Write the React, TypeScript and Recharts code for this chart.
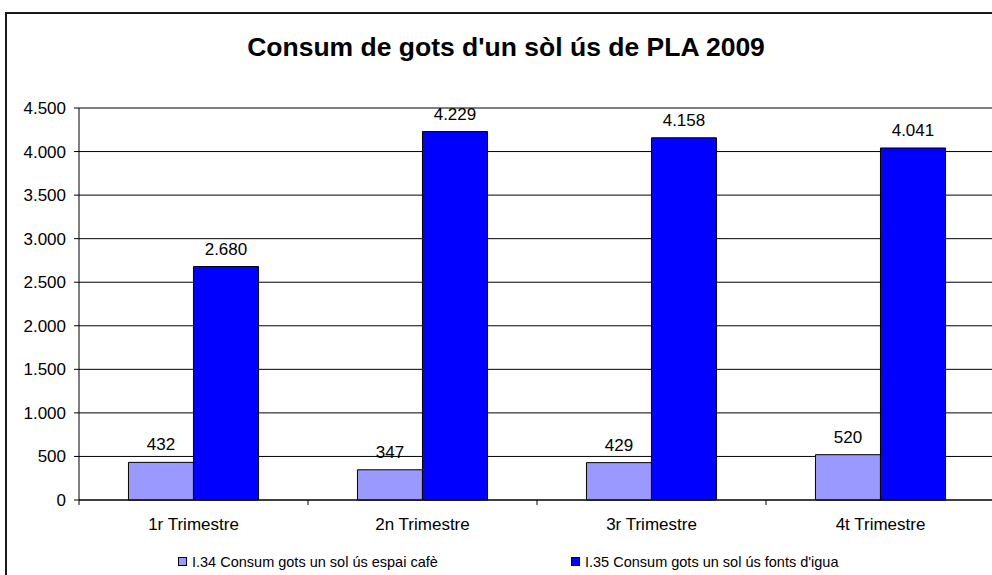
import * as React from "react";
import {
  BarChart,
  Bar,
  XAxis,
  YAxis,
  CartesianGrid,
  Legend,
  LabelList,
  ReferenceLine,
} from "recharts";

const categories = ["1r Trimestre", "2n Trimestre", "3r Trimestre", "4t Trimestre"];
const cafeSeries = [432, 347, 429, 520];
const fontsSeries = [2680, 4229, 4158, 4041];
const yTicks = [0, 500, 1000, 1500, 2000, 2500, 3000, 3500, 4000, 4500];

const cafeName = "I.34 Consum gots un sol ús espai cafè";
const fontsName = "I.35 Consum gots un sol ús fonts d'igua";
const title = "Consum de gots d'un sòl ús de PLA 2009";

const FONT = '"Liberation Sans", Arial, sans-serif';
const CHART_W = 1000;
const CHART_H = 575;
const MARGIN = { top: 108, right: 5, left: 0, bottom: 0 };
const Y_AXIS_W = 79;
const PLOT_W = CHART_W - MARGIN.left - MARGIN.right - Y_AXIS_W;

const data = categories.map((name, i) => ({
  name,
  cafe: cafeSeries[i],
  fonts: fontsSeries[i],
}));

// 4500 -> "4.500"
const fmt = (v: any) => String(v).replace(/\B(?=(\d{3})+(?!\d))/g, ".");

function CategoryTick(props: any) {
  const { x, y, payload, index } = props;
  const band = PLOT_W / categories.length;
  return (
    <g>
      {index === 0 && (
        <line x1={x - band / 2} x2={x - band / 2} y1={y} y2={y + 5} stroke="#000" />
      )}
      <line x1={x + band / 2} x2={x + band / 2} y1={y} y2={y + 5} stroke="#000" />
      <text x={x} y={y + 30} textAnchor="middle" fontSize={17} fontFamily={FONT} fill="#000">
        {payload.value}
      </text>
    </g>
  );
}

function LegendContent() {
  const items = [
    { label: cafeName, color: "#9999FF", width: 393 },
    { label: fontsName, color: "#0000FF", width: undefined },
  ];
  return (
    <div
      style={{
        height: 27,
        display: "flex",
        alignItems: "center",
        paddingLeft: 178,
        fontFamily: FONT,
        fontSize: 14.5,
        color: "#000",
      }}
    >
      {items.map((it) => (
        <div key={it.label} style={{ display: "flex", alignItems: "center", width: it.width }}>
          <span
            style={{
              display: "inline-block",
              width: 7,
              height: 7,
              background: it.color,
              border: "1px solid #000",
              marginRight: 5,
            }}
          />
          <span>{it.label}</span>
        </div>
      ))}
    </div>
  );
}

export default function App() {
  return (
    <div
      style={{
        position: "absolute",
        left: 0,
        top: 0,
        width: 992,
        height: 575,
        overflow: "hidden",
        background: "#fff",
      }}
    >
      <div
        style={{
          position: "absolute",
          left: 5,
          top: 12,
          width: 1100,
          height: 700,
          border: "2px solid #1a1a1a",
        }}
      />
      <div
        style={{
          position: "absolute",
          left: 0,
          top: 32,
          width: 1012,
          textAlign: "center",
          fontFamily: FONT,
          fontWeight: "bold",
          fontSize: 26.5,
          lineHeight: "30px",
          color: "#000",
        }}
      >
        {title}
      </div>
      <div style={{ position: "absolute", left: 0, top: 0 }}>
        <BarChart
          width={CHART_W}
          height={CHART_H}
          data={data}
          margin={MARGIN}
          barGap={0}
          barCategoryGap="21.6%"
        >
          <CartesianGrid vertical={false} stroke="#000" />
          <ReferenceLine y={4500} stroke="#808080" />
          <XAxis
            dataKey="name"
            height={48}
            tickSize={0}
            tickMargin={0}
            tick={<CategoryTick />}
            axisLine={{ stroke: "#000" }}
            interval={0}
          />
          <YAxis
            width={Y_AXIS_W}
            domain={[0, 4500]}
            ticks={yTicks}
            interval={0}
            tickFormatter={fmt}
            tickSize={5}
            tickMargin={8}
            axisLine={{ stroke: "#000" }}
            tickLine={{ stroke: "#000" }}
            tick={{ fontSize: 17, fontFamily: FONT, fill: "#000" }}
          />
          <Legend verticalAlign="bottom" content={<LegendContent />} />
          <Bar dataKey="cafe" name={cafeName} fill="#9999FF" stroke="#000" strokeWidth={1} isAnimationActive={false}>
            <LabelList
              dataKey="cafe"
              position="top"
              offset={12}
              formatter={fmt}
              style={{ fontSize: 17, fontFamily: FONT, fill: "#000" }}
            />
          </Bar>
          <Bar dataKey="fonts" name={fontsName} fill="#0000FF" stroke="#000" strokeWidth={1} isAnimationActive={false}>
            <LabelList
              dataKey="fonts"
              position="top"
              offset={12}
              formatter={fmt}
              style={{ fontSize: 17, fontFamily: FONT, fill: "#000" }}
            />
          </Bar>
        </BarChart>
      </div>
    </div>
  );
}
